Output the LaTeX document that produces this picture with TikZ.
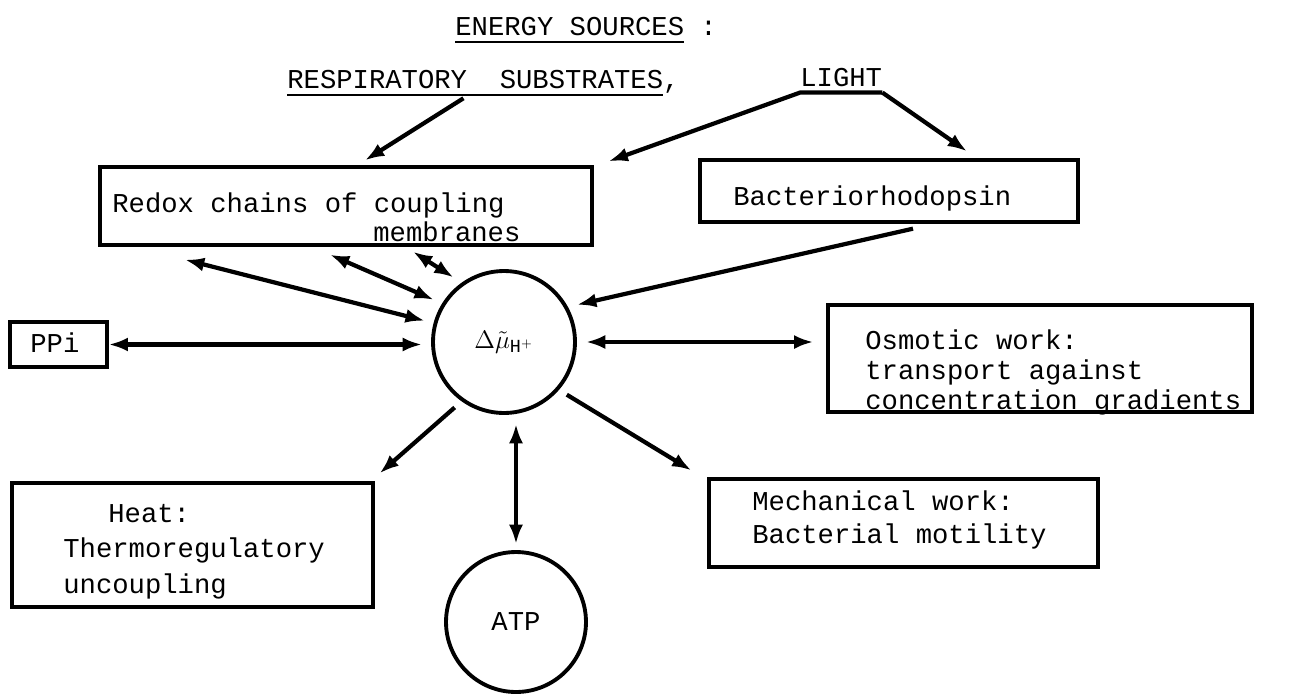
\documentclass[tikz,border=0pt]{standalone}
\usepackage{fontspec}
\setmainfont{Liberation Mono}
\usetikzlibrary{arrows.meta,calc}

\newcommand{\ulbar}[1]{\setbox0\hbox{#1}\rlap{\rule[-4.5pt]{\wd0}{1.2pt}}\box0\relax}

\tikzset{
  txt/.style={font=\fontsize{15.5}{19}\selectfont, inner sep=0pt, anchor=base west},
  box/.style={draw, rectangle, line width=1.9pt, inner sep=0pt},
  ring/.style={draw, circle, line width=2.2pt, inner sep=0pt},
  arr/.style={line width=2.4pt, -{Latex[length=11pt,width=8pt]}},
  darr/.style={line width=2.4pt, {Latex[length=11pt,width=8pt]}-{Latex[length=11pt,width=8pt]}},
}

\begin{document}
\begin{tikzpicture}[x=0.02cm, y=-0.02cm]
    \useasboundingbox (0,0) rectangle (1306,694);

    % sources
    \node[txt] (energy) at (455,35) {\ulbar{ENERGY SOURCES} :};
    \node[txt] (resp) at (287,88) {\ulbar{RESPIRATORY~~SUBSTRATES},};
    \node[txt, inner ysep=3.4pt] (light) at (800,86) {LIGHT};

    % boxes
    \node[box, minimum width=9.84cm, minimum height=1.56cm] (redox) at (346,206) {};
    \node[txt] (redoxa) at (112,212) {Redox chains of coupling};
    \node[txt] (redoxb) at (373,241) {membranes};
    \node[box, minimum width=7.56cm, minimum height=1.24cm] (bact) at (889,191) {};
    \node[txt] (bacttxt) at (733,205) {Bacteriorhodopsin};
    \node[box, minimum width=1.94cm, minimum height=0.9cm] (ppi) at (58.5,344.5) {};
    \node[txt] (ppitxt) at (30,352) {PPi};
    \node[box, minimum width=8.48cm, minimum height=2.14cm] (osm) at (1040,358.5) {};
    \node[txt] (osma) at (865,349) {Osmotic work:};
    \node[txt] (osmb) at (865,379) {transport against};
    \node[txt] (osmc) at (865,409) {concentration gradients};
    \node[box, minimum width=7.22cm, minimum height=2.48cm] (heat) at (192.5,545) {};
    \node[txt] (heata) at (108,522) {Heat:};
    \node[txt] (heatb) at (63,557) {Thermoregulatory};
    \node[txt] (heatc) at (63,593) {uncoupling};
    \node[box, minimum width=7.78cm, minimum height=1.76cm] (mech) at (903.5,523) {};
    \node[txt] (mecha) at (752,510) {Mechanical work:};
    \node[txt] (mechb) at (752,543) {Bacterial motility};

    % circles
    \node[ring, minimum size=2.84cm, outer sep=0.22cm, font=\fontsize{15}{18}\selectfont] (mu) at (504,342) {$\Delta\tilde{\mu}_{\mathrm{H}^{+}}$};
    \node[ring, minimum size=2.8cm, outer sep=0.16cm, font=\fontsize{15.5}{19}\selectfont] (atp) at (516,622) {ATP};

    % arrows
    \draw[arr] ([shift={(-20,2)}]resp.south) -- ([shift={(19,-5)}]redox.north);
    \draw[arr] (light.south east) -- ([shift={(78,-7)}]bact.north);
    \draw[arr] (light.south east) -- (light.south west) -- ([shift={(15,-4)}]redox.north east);
    \draw[darr] ([shift={(-161,13)}]redox.south) -- (mu.165);
    \draw[darr] ([shift={(-16,8)}]redox.south) -- (mu.149);
    \draw[darr] ([shift={(67,5)}]redox.south) -- (mu.128);
    \draw[arr] ([shift={(24,5)}]bact.south) -- (mu.27);
    \draw[darr] (ppi.east) -- (ppi.east -| mu.west);
    \draw[darr, shorten >=0.26cm] (mu.east) -- (mu.east -| osm.west);
    \draw[arr] (mu.233) -- ([shift={(5,-8)}]heat.north east);
    \draw[arr] (mu.320) -- ([shift={(-16,-7)}]mech.north west);
    \draw[darr] (atp.north) -- (atp.north |- mu.south);
\end{tikzpicture}
\end{document}
